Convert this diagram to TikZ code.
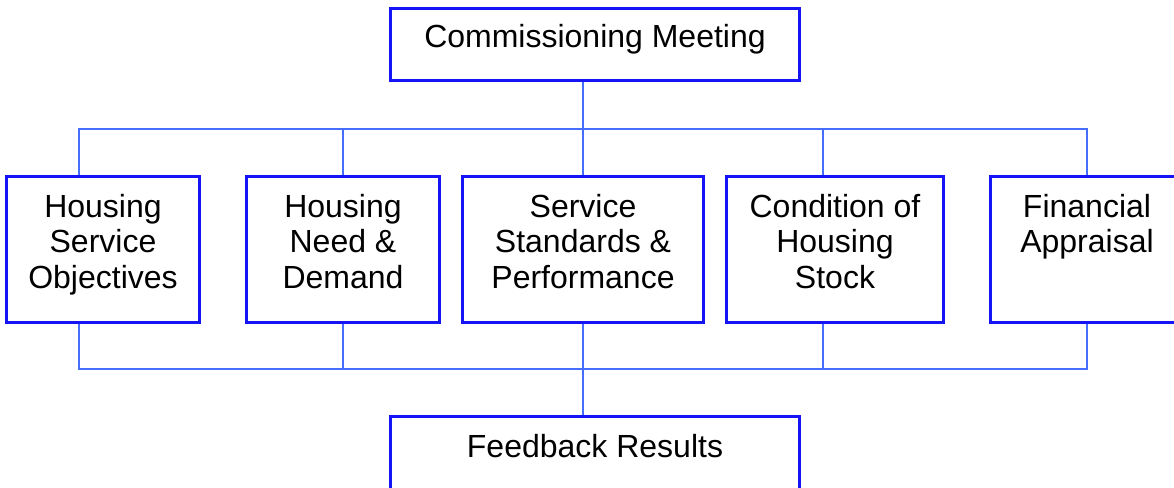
\documentclass[tikz,border=0pt]{standalone}
\usepackage{fontspec}
\setmainfont{Liberation Sans}
\begin{document}
\begin{tikzpicture}[x=1pt,y=-1pt,
  box/.style={draw=boxblue, line width=1.6pt, rectangle, inner sep=0pt},
  wire/.style={draw=wireblue, line width=1.3pt},
  label/.style={anchor=north, inner sep=0pt, align=center,
    font=\fontsize{32}{35.5}\selectfont}]
\definecolor{boxblue}{RGB}{20,20,245}
\definecolor{wireblue}{RGB}{70,110,255}
\useasboundingbox (0,0) rectangle (1174,487);
\fill[white] (0,0) rectangle (1174,487);

% boxes
\node[box, minimum width=408pt, minimum height=71pt]  (top) at (595,44.5) {};
\node[box, minimum width=192pt, minimum height=145pt] (b1)  at (103,249.5) {};
\node[box, minimum width=192pt, minimum height=145pt] (b2)  at (343,249.5) {};
\node[box, minimum width=240pt, minimum height=145pt] (b3)  at (583,249.5) {};
\node[box, minimum width=216pt, minimum height=145pt] (b4)  at (835,249.5) {};
\node[box, minimum width=192pt, minimum height=145pt] (b5)  at (1087,249.5) {};
\node[box, minimum width=408pt, minimum height=72pt]  (bot) at (595,453) {};

% texts, top-aligned in each box
\newcommand{\firstline}{\rule{0pt}{24pt}}
\node[label] (ttop) at ([yshift=-15pt]top.north) {\firstline Commissioning Meeting};
\node[label] (t1) at ([yshift=-17pt]b1.north) {\firstline Housing\\Service\\Objectives};
\node[label] (t2) at ([yshift=-17pt]b2.north) {\firstline Housing\\Need \&\\Demand};
\node[label] (t3) at ([yshift=-17pt]b3.north) {\firstline Service\\Standards \&\\Performance};
\node[label] (t4) at ([yshift=-17pt]b4.north) {\firstline Condition of\\Housing\\Stock};
\node[label] (t5) at ([yshift=-17pt]b5.north) {\firstline Financial\\Appraisal};
\node[label] (tbot) at ([yshift=-17pt]bot.north) {\firstline Feedback Results};

% bus lines
\coordinate (upL) at (79,129);
\coordinate (upR) at (1087,129);
\coordinate (dnL) at (79,369);
\coordinate (dnR) at (1087,369);
\coordinate (c2) at (343,0);
\coordinate (c3) at (583,0);
\coordinate (c4) at (823,0);

% upper distribution
\draw[wire] (top.south -| c3) -- (b3.north -| c3);
\draw[wire] (b1.north -| upL) -- (upL) -- (upR) -- (b5.north -| upR);
\draw[wire] (upL -| c2) -- (b2.north -| c2);
\draw[wire] (upL -| c4) -- (b4.north -| c4);

% lower collection
\draw[wire] (b1.south -| dnL) -- (dnL) -- (dnR) -- (b5.south -| dnR);
\draw[wire] (b2.south -| c2) -- (dnL -| c2);
\draw[wire] (b3.south -| c3) -- (bot.north -| c3);
\draw[wire] (b4.south -| c4) -- (dnL -| c4);

% redraw box outlines above the wires
\foreach \n in {top,b1,b2,b3,b4,b5,bot}
  \draw[draw=boxblue, line width=1.6pt] (\n.north west) rectangle (\n.south east);
\end{tikzpicture}
\end{document}
